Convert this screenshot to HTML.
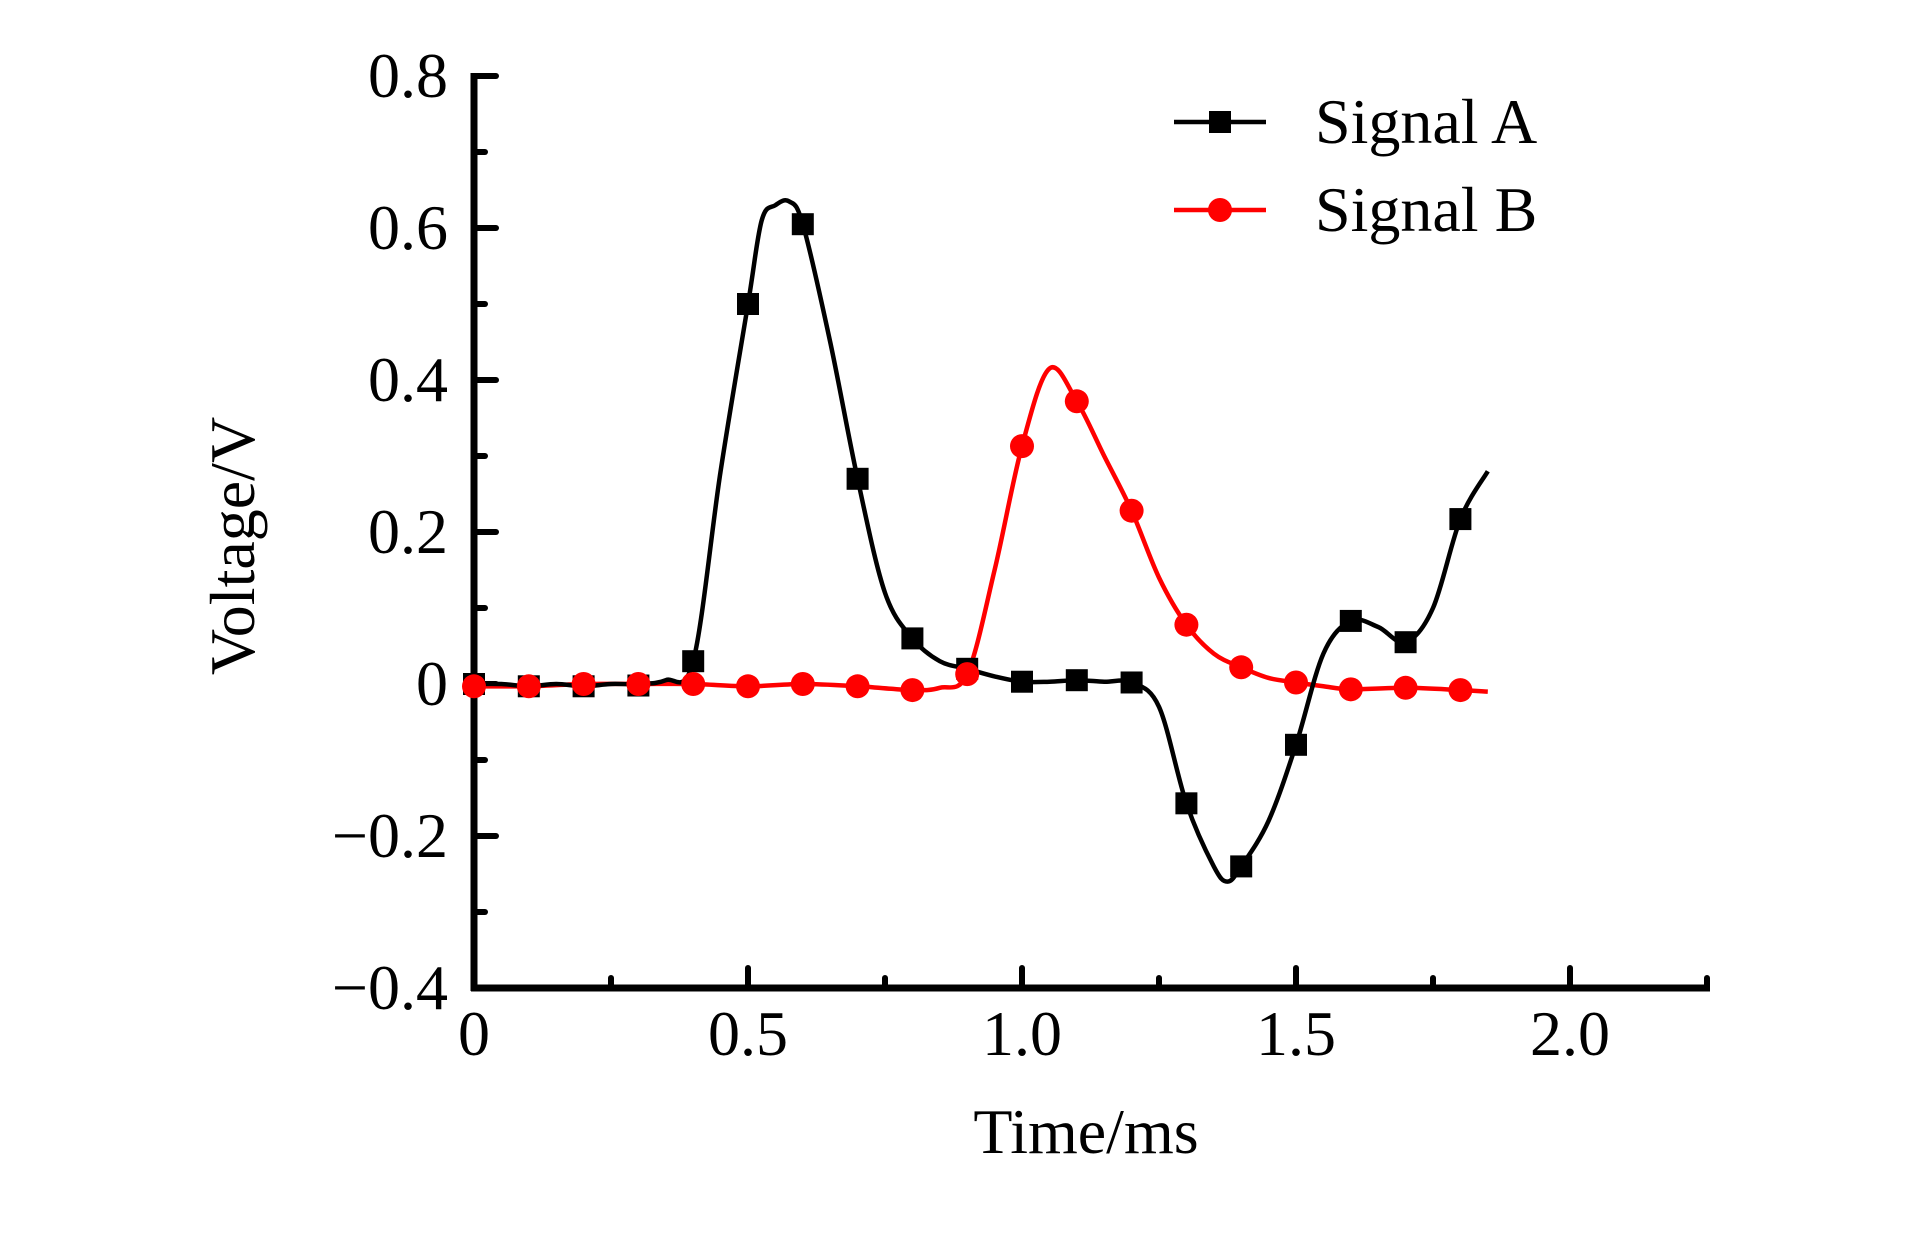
<!DOCTYPE html>
<html><head><meta charset="utf-8"><style>
html,body{margin:0;padding:0;background:#fff;}
svg{display:block;}
text{font-family:"Liberation Serif",serif;fill:#000;}
</style></head><body>
<svg id="chart" width="1923" height="1235" viewBox="0 0 1923 1235">
<g id="axes"></g>
<g id="series"></g>
<g id="legend"></g>
</svg>
<script>
const xTicks = [0, 0.5, 1.0, 1.5, 2.0];
const xTickLabels = ["0", "0.5", "1.0", "1.5", "2.0"];
const yTicks = [-0.4, -0.2, 0, 0.2, 0.4, 0.6, 0.8];
const yTickLabels = ["\u22120.4", "\u22120.2", "0", "0.2", "0.4", "0.6", "0.8"];
const markerTimes = [0,0.1,0.2,0.3,0.4,0.5,0.6,0.7,0.8,0.9,1.0,1.1,1.2,1.3,1.4,1.5,1.6,1.7,1.8];
const markersA = [0,-0.003,-0.003,-0.002,0.03,0.5,0.605,0.27,0.06,0.02,0.003,0.005,0.002,-0.157,-0.24,-0.08,0.083,0.055,0.217];
const markersB = [-0.003,-0.003,0,0,0,-0.003,0,-0.003,-0.008,0.013,0.313,0.372,0.228,0.078,0.022,0.002,-0.007,-0.005,-0.008];
const curveTimesA = [0,0.05,0.1,0.15,0.2,0.25,0.3,0.35,0.4,0.45,0.5,0.525,0.55,0.575,0.6,0.65,0.7,0.75,0.8,0.85,0.9,0.95,1.0,1.05,1.1,1.15,1.2,1.25,1.3,1.35,1.375,1.4,1.45,1.5,1.55,1.6,1.65,1.7,1.75,1.8,1.85];
const curveA = [0,0,-0.003,0,-0.003,0,0,0.005,0.03,0.28,0.5,0.61,0.63,0.635,0.605,0.45,0.27,0.12,0.06,0.03,0.02,0.01,0.003,0.003,0.005,0.003,0.002,-0.03,-0.157,-0.24,-0.26,-0.24,-0.18,-0.08,0.04,0.083,0.075,0.055,0.1,0.217,0.28];
const curveTimesB = [0,0.1,0.2,0.3,0.4,0.5,0.6,0.7,0.8,0.85,0.9,0.95,1.0,1.05,1.1,1.15,1.2,1.25,1.3,1.35,1.4,1.45,1.5,1.55,1.6,1.7,1.8,1.85];
const curveB = [-0.003,-0.003,0,0,0,-0.003,0,-0.003,-0.008,-0.005,0.013,0.15,0.313,0.415,0.372,0.3,0.228,0.14,0.078,0.04,0.022,0.008,0.002,-0.003,-0.007,-0.005,-0.008,-0.01];

const X0=474, XS=548, Y0=684, YS=152/0.2;
const sx = v => X0 + v*XS;
const sy = v => Y0 - v*YS;
const NS="http://www.w3.org/2000/svg";
function mk(tag, attrs, parent){const e=document.createElementNS(NS,tag);for(const k in attrs)e.setAttribute(k,attrs[k]);parent.appendChild(e);return e;}
const axes=document.getElementById('axes'), series=document.getElementById('series'), legend=document.getElementById('legend');

let yl=mk('line',{x1:X0,y1:sy(0.8)-3,x2:X0,y2:sy(-0.4)+3,stroke:'#000','stroke-width':7},axes);


let xl=mk('line',{x1:X0-3,y1:sy(-0.4),x2:1710,y2:sy(-0.4),stroke:'#000','stroke-width':7},axes);


for(let i=0;i<yTicks.length;i++){
  const y=sy(yTicks[i]);
  let t=mk('line',{x1:X0,y1:y,x2:X0+22,y2:y,stroke:'#000','stroke-width':6,'stroke-linecap':'round'},axes);
  
  
  let l=mk('text',{x:448,y:y+21,'text-anchor':'end','font-size':64},axes);
  l.textContent=yTickLabels[i];
  
  
  if(i<yTicks.length-1){
    const ym=sy(yTicks[i]+0.1);
    let m=mk('line',{x1:X0,y1:ym,x2:X0+11,y2:ym,stroke:'#000','stroke-width':6,'stroke-linecap':'round'},axes);
    
    
  }
}
const yb=sy(-0.4);
for(let i=0;i<xTicks.length;i++){
  const x=sx(xTicks[i]);
  let t=mk('line',{x1:x,y1:yb,x2:x,y2:yb-20,stroke:'#000','stroke-width':6,'stroke-linecap':'round'},axes);
  
  
  let l=mk('text',{x:x,y:yb+67,'text-anchor':'middle','font-size':64},axes);
  l.textContent=xTickLabels[i];
  
  
}
for(let v=0.25; v<2.3; v+=0.5){
  const x=sx(v);
  let m=mk('line',{x1:x,y1:yb,x2:x,y2:yb-10,stroke:'#000','stroke-width':6,'stroke-linecap':'round'},axes);
  
  
}
let xt=mk('text',{x:1086,y:1153,'text-anchor':'middle','font-size':64},axes);
xt.textContent='Time/ms';


let ytt=mk('text',{x:0,y:0,'text-anchor':'middle','font-size':64,transform:'translate(254,546) rotate(-90)'},axes);
ytt.textContent='Voltage/V';



function pathFor(ts, vs){
  const p=ts.map((t,i)=>[sx(t),sy(vs[i])]);
  let d='M'+p[0][0]+','+p[0][1];
  for(let i=0;i<p.length-1;i++){
    const a=p[Math.max(0,i-1)],b=p[i],c=p[i+1],e=p[Math.min(p.length-1,i+2)];
    const c1=[b[0]+(c[0]-a[0])/6,b[1]+(c[1]-a[1])/6],c2=[c[0]-(e[0]-b[0])/6,c[1]-(e[1]-b[1])/6];
    d+=` C${c1[0]},${c1[1]} ${c2[0]},${c2[1]} ${c[0]},${c[1]}`;
  }
  return d;
}
let lb=mk('path',{d:pathFor(curveTimesB,curveB),fill:'none',stroke:'#ff0000','stroke-width':4.5},series);


let la=mk('path',{d:pathFor(curveTimesA,curveA),fill:'none',stroke:'#000','stroke-width':4.5},series);


for(let i=0;i<markerTimes.length;i++){
  let s=mk('rect',{x:sx(markerTimes[i])-11,y:sy(markersA[i])-11,width:22,height:22,fill:'#000'},series);
  
  
}
for(let i=0;i<markerTimes.length;i++){
  let c=mk('circle',{cx:sx(markerTimes[i]),cy:sy(markersB[i]),r:12,fill:'#ff0000'},series);
  
  
}
const legItems=[['Signal A','#000','rect',122],['Signal B','#ff0000','circle',210]];
for(const [name,col,shape,y] of legItems){
  const g=mk('g',{},legend);
  
  
  mk('line',{x1:1174,y1:y,x2:1266,y2:y,stroke:col,'stroke-width':4.5},g);
  if(shape==='rect') mk('rect',{x:1209,y:y-11,width:22,height:22,fill:col},g);
  else mk('circle',{cx:1220,cy:y,r:12,fill:col},g);
  const t=mk('text',{x:1315,y:y+21,'font-size':64},g);
  t.textContent=name;
}
</script>
</body></html>
